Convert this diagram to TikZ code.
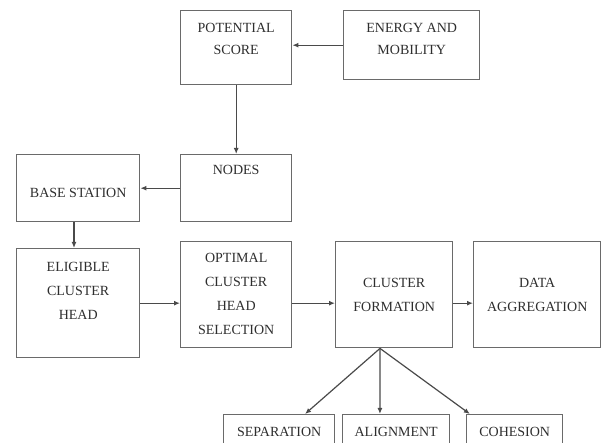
\documentclass[tikz,border=0pt]{standalone}
\usepackage{fontspec}
\setmainfont{Liberation Serif}
\definecolor{fcInk}{HTML}{2E2E2E}
\definecolor{fcLine}{HTML}{4A4A4A}
\definecolor{fcEdge}{HTML}{6A6A6A}
\usetikzlibrary{arrows.meta,calc}
% box text: width, height, gap above first line, text
\newcommand{\boxlbl}[4]{\parbox[c][#2][t]{#1}{\centering\vspace*{#3}#4}}

\begin{document}
\begin{tikzpicture}[x=1pt,y=-1pt,
  font=\fontsize{14}{24}\selectfont,
  blk/.style={draw=fcEdge,line width=1.4pt,inner sep=0pt,anchor=north west,text=fcInk},
  flow/.style={draw=fcLine,line width=1.2pt,-{Latex[length=6pt,width=5pt]}}]
\useasboundingbox (0,0) rectangle (603,443);
\clip (0,0) rectangle (603,443);
% upper part
\node[blk] (pot)    at (180,10)  {\boxlbl{111pt}{74pt}{13pt}{POTENTIAL\\[-2pt]SCORE}};
\node[blk] (energy) at (343,10)  {\boxlbl{136pt}{69pt}{13pt}{ENERGY AND\\[-2pt]MOBILITY}};
\node[blk] (nodes)  at (180,154) {\boxlbl{111pt}{67pt}{11pt}{NODES}};
\node[blk] (base)   at (16,154)  {\boxlbl{123pt}{67pt}{34pt}{BASE STATION}};
% main row
\node[blk] (elig)   at (16,248)  {\boxlbl{123pt}{109pt}{14pt}{ELIGIBLE\\CLUSTER\\HEAD}};
\node[blk] (opt)    at (180,241) {\boxlbl{111pt}{106pt}{12pt}{OPTIMAL\\CLUSTER\\HEAD\\SELECTION}};
\node[blk] (clus)   at (335,241) {\boxlbl{117pt}{106pt}{37pt}{CLUSTER\\FORMATION}};
\node[blk] (data)   at (473,241) {\boxlbl{127pt}{106pt}{37pt}{DATA\\AGGREGATION}};
% rules, below
\node[blk] (sep)    at (223,414) {\boxlbl{111pt}{63pt}{13pt}{SEPARATION}};
\node[blk] (ali)    at (342,414) {\boxlbl{107pt}{63pt}{13pt}{ALIGNMENT}};
\node[blk] (coh)    at (466,414) {\boxlbl{96pt}{63pt}{13pt}{COHESION}};
\coordinate (fork) at ($(clus.south west)!0.38!(clus.south east)$);
% connectors
\draw[flow] (energy.west) -- (energy.west -| pot.east);
\draw[flow] (pot.south) -- (nodes.north);
\draw[flow] (nodes.west) -- (base.east);
\draw[flow] (base.south -| 74,0) -- (elig.north -| 74,0);
\draw[flow] (elig.east) -- (elig.east -| opt.west);
\draw[flow] (elig.east -| opt.east) -- (elig.east -| clus.west);
\draw[flow] (elig.east -| clus.east) -- (elig.east -| data.west);
\draw[flow] (fork) -- ($(sep.north west)!0.73!(sep.north east)$);
\draw[flow] (fork) -- ($(ali.north west)!0.35!(ali.north east)$);
\draw[flow] (fork) -- ($(coh.north west)!0.04!(coh.north east)$);
\end{tikzpicture}
\end{document}
